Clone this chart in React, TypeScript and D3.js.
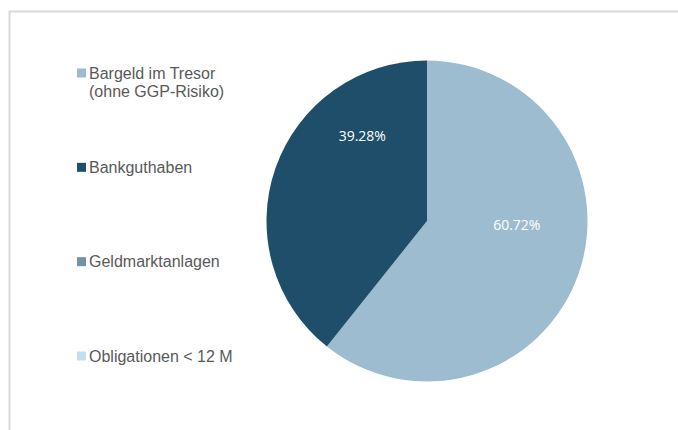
import React from "react";
import * as d3 from "d3";

const categories = ["Bargeld im Tresor\n(ohne GGP-Risiko)", "Bankguthaben", "Geldmarktanlagen", "Obligationen < 12 M"];
const values = [60.72, 39.28, 0, 0];
const colors = ["#9DBCD0", "#1F4E6B", "#6F93A9", "#C5DDEC"];
// label placement (angle in degrees from 12 o'clock clockwise, radius fraction)
const labelAngles = [92.5, 323];
const labelRadii = [0.56, 0.67];

export default function App() {
  const W = 678, H = 430;
  const cx = 427, cy = 221, r = 160.5;
  const pie = d3.pie<number>().sort(null).value((d) => d)(values);
  const arc = d3.arc<d3.PieArcDatum<number>>().innerRadius(0).outerRadius(r);
  const legendY = d3.scaleLinear().domain([0, 3]).range([73, 356]);

  return (
    <svg width={W} height={H} style={{ position: "absolute", left: 0, top: 0 }}>
      <rect x={0} y={0} width={W} height={H} fill="#fff" />
      <rect x={9.5} y={11.5} width={W + 20} height={H + 20} fill="none" stroke="#D9D9D9" strokeWidth={2} />
      <g transform={`translate(${cx},${cy})`}>
        {pie.map((p, i) =>
          p.value > 0 ? <path key={i} d={arc(p) || ""} fill={colors[i]} /> : null
        )}
        {pie.map((p, i) => {
          if (p.value <= 0) return null;
          const a = (labelAngles[i] * Math.PI) / 180;
          const rr = r * labelRadii[i];
          return (
            <text
              key={"l" + i}
              x={Math.sin(a) * rr}
              y={-Math.cos(a) * rr}
              textAnchor="middle"
              dominantBaseline="central"
              fill="#fff"
              style={{ fontFamily: "'Open Sans', sans-serif", fontSize: "14px" }}
            >
              {values[i].toFixed(2)}%
            </text>
          );
        })}
      </g>
      {categories.map((c, i) => {
        const y = legendY(i);
        const lines = c.split("\n");
        return (
          <g key={"lg" + i}>
            <rect x={77} y={y - 4.5} width={9} height={9} fill={colors[i]} />
            {lines.map((ln, j) => (
              <text
                key={j}
                x={89}
                y={y + j * 18}
                dominantBaseline="central"
                fill="#595959"
                style={{ fontFamily: "'Liberation Sans', Arial, sans-serif", fontSize: "16px" }}
              >
                {ln}
              </text>
            ))}
          </g>
        );
      })}
    </svg>
  );
}
